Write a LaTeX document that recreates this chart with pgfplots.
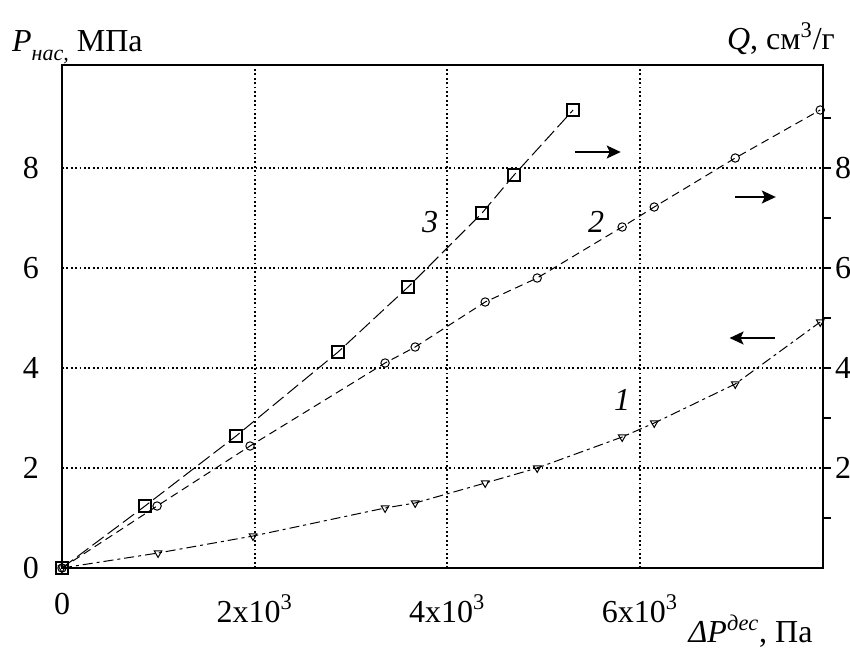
\documentclass[border=0pt]{standalone}
\usepackage{pgfplots}
\pgfplotsset{compat=1.18}
\usepackage{fontspec}
\setmainfont{Liberation Serif}
\usetikzlibrary{arrows.meta}
\begin{document}
\fontsize{16}{19}\selectfont
\begin{tikzpicture}
\path[use as bounding box] (-31pt,-41pt) rectangle (394pt,284pt);
\pgfplotsset{every axis/.append style={font=\fontsize{16}{19}\selectfont},
  /pgf/number format/assume math mode=true}
\begin{axis}[
  at={(0pt,0pt)}, anchor=south west,
  scale only axis, width=380.5pt, height=251.5pt,
  xmin=0, xmax=7900, ymin=0, ymax=10.06,
  axis line style={line width=1pt},
  xtick={0,2000,4000,6000},
  xticklabels={\raisebox{4pt}{0}, 2x10\textsuperscript{3}, 4x10\textsuperscript{3}, 6x10\textsuperscript{3}},
  ytick={0,2,4,6,8}, yticklabels={0,2,4,6,8},
  major tick length=0pt,
  xtick pos=bottom, ytick pos=left,
  grid=major,
  major grid style={black, line width=0.9pt, dash pattern=on 0.9pt off 1.3pt},
  yticklabel style={xshift=-6pt},
  xticklabel style={anchor=base, yshift=-27pt},
  clip=false,
]
\addplot[black, line width=0.5pt, dash pattern=on 5pt off 2pt on 1.5pt off 2pt,
  mark=triangle, mark size=2.2pt, mark options={solid, rotate=180, fill=white}]
  coordinates {(0,0) (997,0.30) (1983,0.64) (3354,1.20) (3666,1.30) (4393,1.70)
  (4933,2.00) (5815,2.62) (6148,2.90) (6989,3.68) (7871,4.92)};
\addplot[black, line width=0.5pt, dash pattern=on 4pt off 2.5pt,
  mark=o, mark size=2.1pt, mark options={solid, fill=white}]
  coordinates {(0,0) (987,1.24) (1952,2.44) (3354,4.10) (3666,4.42) (4393,5.32)
  (4933,5.80) (5815,6.82) (6148,7.22) (6989,8.20) (7871,9.16)};
\addplot[black, line width=0.5pt, dash pattern=on 7pt off 2.5pt,
  mark=square, mark size=3pt, mark options={solid, fill=white, line width=0.7pt}]
  coordinates {(0,0) (862,1.24) (1807,2.64) (2866,4.32) (3593,5.62) (4361,7.10)
  (4693,7.86) (5306,9.16)};
\node[font=\itshape\fontsize{16}{19}\selectfont] at (axis cs:3821,6.92) {3};
\node[font=\itshape\fontsize{16}{19}\selectfont] at (axis cs:5545,6.92) {2};
\node[font=\itshape\fontsize{16}{19}\selectfont] at (axis cs:5815,3.36) {1};
\draw[line width=0.7pt, -{Stealth[length=7pt, width=6.5pt, inset=1.5pt]}] (axis cs:5325,8.32) -- (axis cs:5800,8.32);
\draw[line width=0.7pt, -{Stealth[length=7pt, width=6.5pt, inset=1.5pt]}] (axis cs:6989,7.42) -- (axis cs:7410,7.42);
\draw[line width=0.7pt, -{Stealth[length=7pt, width=6.5pt, inset=1.5pt]}] (axis cs:7404,4.60) -- (axis cs:6930,4.60);
\node[anchor=base west, inner sep=0pt] at (rel axis cs:-0.066,1.026) {\textit{P}\raisebox{-0.55ex}{\fontsize{11}{12}\selectfont\itshape нас,}\ МПа};
\node[anchor=base east, inner sep=0pt] at (rel axis cs:1.016,1.030) {\textit{Q}, см\textsuperscript{3}/г};
\node[anchor=base west, inner sep=0pt] at (rel axis cs:0.823,-0.149) {\textit{ΔP}\textsuperscript{\textit{дес}}, Па};
\end{axis}
\begin{axis}[
  at={(0pt,0pt)}, anchor=south west,
  scale only axis, width=380.5pt, height=251.5pt,
  xmin=0, xmax=7900, ymin=0, ymax=10.06,
  axis x line=none, axis y line*=right,
  axis line style={line width=1pt, -},
  ytick={2,4,6,8}, yticklabels={2,4,6,8},
  minor ytick={1,3,5,7,9},
  tick align=outside,
  major tick length=4pt, minor tick length=4pt,
  tick style={black, line width=0.8pt},
  yticklabel style={xshift=-3.5pt},
]
\end{axis}
\end{tikzpicture}
\end{document}
